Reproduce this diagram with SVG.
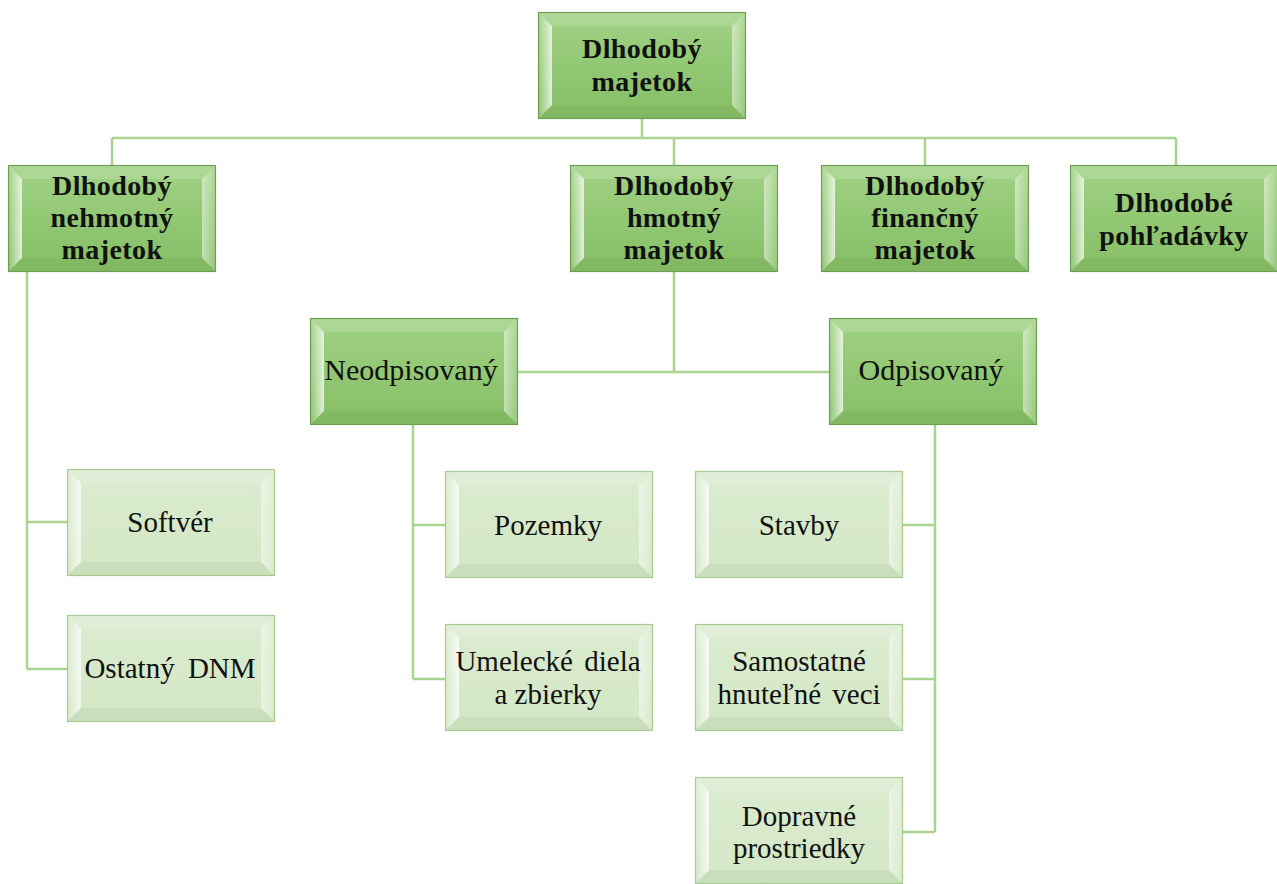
<svg xmlns="http://www.w3.org/2000/svg" xmlns:xlink="http://www.w3.org/1999/xlink" width="1277" height="884" viewBox="0 0 1277 884">
<defs>
<linearGradient id="gDark" x1="0" y1="0" x2="0" y2="1">
<stop offset="0" stop-color="#a0d284"/>
<stop offset="1" stop-color="#85be65"/>
</linearGradient>
<linearGradient id="gLight" x1="0" y1="0" x2="0" y2="1">
<stop offset="0" stop-color="#dbecd0"/>
<stop offset="1" stop-color="#d3e7c5"/>
</linearGradient>
<linearGradient id="gLeft" x1="0" y1="0" x2="1" y2="0">
<stop offset="0" stop-color="#ffffff" stop-opacity="0.05"/>
<stop offset="1" stop-color="#ffffff" stop-opacity="0.75"/>
</linearGradient>
<linearGradient id="gRight" x1="0" y1="0" x2="1" y2="0">
<stop offset="0" stop-color="#ffffff" stop-opacity="0.5"/>
<stop offset="1" stop-color="#ffffff" stop-opacity="0.1"/>
</linearGradient>
<g id="bevel">
<polygon points="0,0 208,0 194,14 14,14" fill="#ffffff" fill-opacity="0.15"/>
<polygon points="0,0 14,14 14,93 0,107" fill="url(#gLeft)"/>
<polygon points="208,0 208,107 194,93 194,14" fill="url(#gRight)"/>
<polygon points="0,107 14,93 194,93 208,107" fill="#2f5a1a" fill-opacity="0.06"/>
</g>
<g id="darkBox">
<rect x="0" y="0" width="208" height="107" fill="url(#gDark)"/>
<use xlink:href="#bevel"/>
<rect x="0.5" y="0.5" width="207" height="106" fill="none" stroke="#6f9f55" stroke-width="1.2"/>
</g>
<g id="lightBox">
<rect x="0" y="0" width="208" height="107" fill="url(#gLight)"/>
<use xlink:href="#bevel"/>
<rect x="0.5" y="0.5" width="207" height="106" fill="none" stroke="#a7cb90" stroke-width="1.2"/>
</g>
</defs>
<style>
text { font-family: "Liberation Serif", serif; font-size: 29px; fill: #111; text-anchor: middle; }
.b { font-size: 28px; font-weight: bold; letter-spacing: 0.4px; }
.m { font-size: 30px; }
.c { fill: none; stroke: #aad38f; stroke-width: 2.5; }
</style>
<rect width="1277" height="884" fill="#ffffff"/>
<g id="connectors">
<path class="c" d="M642 119 V138 M112 138 H1176 M112 138 V165 M674 138 V165 M925 138 V165 M1176 138 V165"/>
<path class="c" d="M674 272 V372 M518 372 H829"/>
<path class="c" d="M27 272 V669 M27 522 H67 M27 669 H67"/>
<path class="c" d="M413 425 V679 M413 525 H445 M413 679 H445"/>
<path class="c" d="M935 425 V832 M903 525 H935 M903 679 H935 M903 832 H935"/>
</g>
<g id="n-dlhodoby-majetok">
<use xlink:href="#darkBox" x="538" y="12"/>
<text class="b" x="642" y="58">Dlhodobý</text>
<text class="b" x="642" y="91">majetok</text>
</g>
<g id="n-nehmotny">
<use xlink:href="#darkBox" x="8" y="165"/>
<text class="b" x="112" y="195">Dlhodobý</text>
<text class="b" x="112" y="227">nehmotný</text>
<text class="b" x="112" y="259">majetok</text>
</g>
<g id="n-hmotny">
<use xlink:href="#darkBox" x="570" y="165"/>
<text class="b" x="674" y="195">Dlhodobý</text>
<text class="b" x="674" y="227">hmotný</text>
<text class="b" x="674" y="259">majetok</text>
</g>
<g id="n-financny">
<use xlink:href="#darkBox" x="821" y="165"/>
<text class="b" x="925" y="195">Dlhodobý</text>
<text class="b" x="925" y="227">finančný</text>
<text class="b" x="925" y="259">majetok</text>
</g>
<g id="n-pohladavky">
<use xlink:href="#darkBox" x="1070" y="165"/>
<text class="b" x="1174" y="212">Dlhodobé</text>
<text class="b" x="1174" y="245">pohľadávky</text>
</g>
<g id="n-neodpisovany">
<use xlink:href="#darkBox" x="310" y="318"/>
<text class="m" x="411" y="380">Neodpisovaný</text>
</g>
<g id="n-odpisovany">
<use xlink:href="#darkBox" x="829" y="318"/>
<text class="m" x="931" y="380">Odpisovaný</text>
</g>
<g id="n-softver">
<use xlink:href="#lightBox" x="67" y="469"/>
<text x="170" y="532">Softvér</text>
</g>
<g id="n-ostatny">
<use xlink:href="#lightBox" x="67" y="615"/>
<text x="170" y="678" word-spacing="6">Ostatný DNM</text>
</g>
<g id="n-pozemky">
<use xlink:href="#lightBox" x="445" y="471"/>
<text x="548" y="535">Pozemky</text>
</g>
<g id="n-umelecke">
<use xlink:href="#lightBox" x="445" y="624"/>
<text x="548" y="671" word-spacing="4">Umelecké diela</text>
<text x="548" y="704">a zbierky</text>
</g>
<g id="n-stavby">
<use xlink:href="#lightBox" x="695" y="471"/>
<text x="799" y="535">Stavby</text>
</g>
<g id="n-samostatne">
<use xlink:href="#lightBox" x="695" y="624"/>
<text x="799" y="671">Samostatné</text>
<text x="799" y="704" word-spacing="4">hnuteľné veci</text>
</g>
<g id="n-dopravne">
<use xlink:href="#lightBox" x="695" y="777"/>
<text x="799" y="826">Dopravné</text>
<text x="799" y="858">prostriedky</text>
</g>
</svg>
